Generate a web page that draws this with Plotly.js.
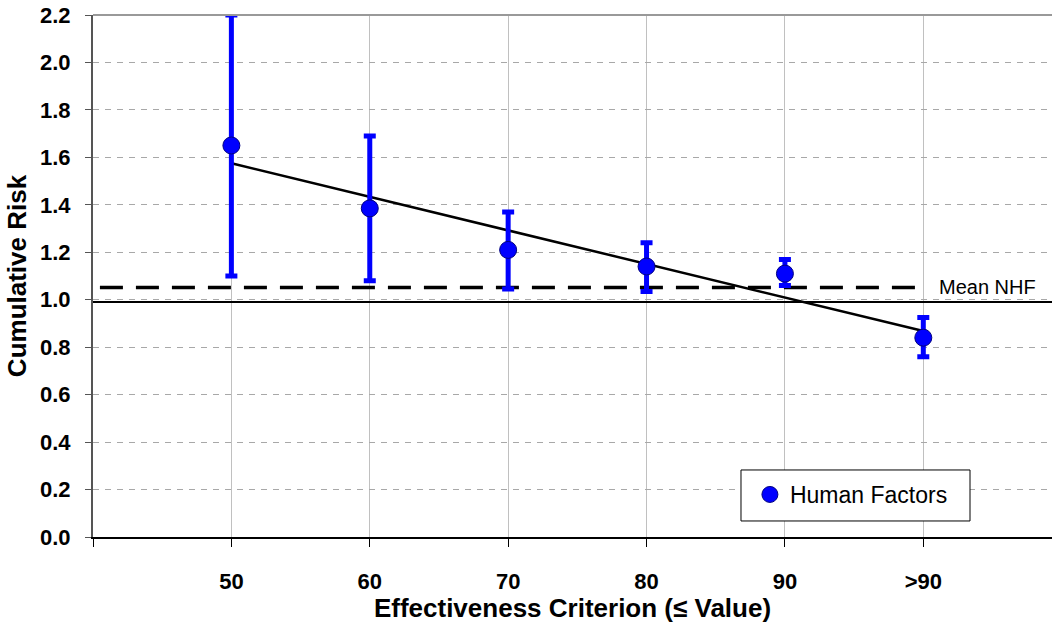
<!DOCTYPE html>
<html>
<head>
<meta charset="utf-8">
<script src="https://cdn.plot.ly/plotly-3.0.1.min.js"></script>
<style>html,body{margin:0;padding:0;background:#fff;overflow:hidden}</style>
</head>
<body>
<div id="chart" style="width:1052px;height:623px"></div>
<script>
// ---- data ----
const categories = ['50', '60', '70', '80', '90', '>90'];
const categoryIndex = [0, 1, 2, 3, 4, 5];
const cumulativeRisk = [1.65, 1.385, 1.21, 1.14, 1.11, 0.84];
const upperBound = [2.20, 1.69, 1.37, 1.24, 1.17, 0.925];
const lowerBound = [1.10, 1.08, 1.045, 1.035, 1.06, 0.76];
const trendX = [0, 5];
const trendY = [1.575, 0.868];
const meanNHF = 1.052;
const meanLineX = [-0.95, 5];
const baselineRisk = 0.99;

const errPlus = upperBound.map((u, i) => u - cumulativeRisk[i]);
const errMinus = lowerBound.map((l, i) => cumulativeRisk[i] - l);

const FONT = 'Arial, "Liberation Sans", sans-serif';

const traces = [
  {
    x: meanLineX, y: meanLineX.map(() => meanNHF),
    mode: 'lines', showlegend: false, hoverinfo: 'skip',
    line: {color: '#000', width: 3.5, dash: '23px,13px'}
  },
  {
    x: trendX, y: trendY,
    mode: 'lines', showlegend: false, hoverinfo: 'skip',
    line: {color: '#000', width: 2.5}
  },
  {
    x: categoryIndex, y: cumulativeRisk,
    name: 'Human Factors',
    mode: 'markers',
    marker: {color: '#0000ff', size: 17, line: {color: '#000080', width: 1}},
    error_y: {type: 'data', symmetric: false, array: errPlus, arrayminus: errMinus,
              color: '#0000ff', thickness: 5, width: 6}
  }
];

const layout = {
  width: 1052, height: 623,
  margin: {l: 93, r: 0, t: 15, b: 86},
  paper_bgcolor: '#fff', plot_bgcolor: '#fff',
  font: {family: FONT, color: '#000'},
  showlegend: true,
  legend: {
    x: 0.685, y: 0.1226, xanchor: 'left', yanchor: 'top',
    bgcolor: 'rgba(0,0,0,0)', borderwidth: 0,
    font: {family: FONT, size: 23, color: '#000'},
    itemwidth: 30
  },
  xaxis: {
    range: [-1, 5.93],
    tickmode: 'array',
    tickvals: [-1].concat(categoryIndex),
    ticktext: [''].concat(categories),
    showgrid: true, gridcolor: '#c0c0c0', gridwidth: 1,
    zeroline: false,
    showline: true, linecolor: '#000', linewidth: 2,
    ticks: 'outside', ticklen: 8, tickcolor: '#000', tickwidth: 1,
    ticklabelstandoff: 16,
    tickfont: {family: FONT, size: 22, color: '#000', weight: 'bold'},
    title: {text: 'Effectiveness Criterion (≤ Value)', standoff: 14,
            font: {family: FONT, size: 26, color: '#000', weight: 'bold'}},
    fixedrange: true
  },
  yaxis: {
    range: [0, 2.2],
    tickmode: 'linear', tick0: 0, dtick: 0.2, tickformat: '.1f',
    showgrid: true, gridcolor: '#a8a8a8', gridwidth: 1, griddash: '6px,6px',
    zeroline: false,
    showline: true, linecolor: '#555', linewidth: 2,
    ticks: 'outside', ticklen: 6, tickcolor: '#555', tickwidth: 1,
    ticklabelstandoff: 10,
    tickfont: {family: FONT, size: 22, color: '#000', weight: 'bold'},
    title: {text: 'Cumulative Risk', standoff: 6,
            font: {family: FONT, size: 26, color: '#000', weight: 'bold'}},
    fixedrange: true
  },
  shapes: [
    {type: 'line', xref: 'paper', yref: 'y', x0: 0, x1: 1, y0: baselineRisk, y1: baselineRisk,
     line: {color: '#000', width: 2}},
    {type: 'line', xref: 'paper', yref: 'paper', x0: 0, x1: 1, y0: 1, y1: 1,
     line: {color: '#999', width: 2}},
    {type: 'rect', xref: 'paper', yref: 'paper', x0: 0.6757, x1: 0.9145, y0: 0.0307, y1: 0.1284,
     layer: 'above', fillcolor: '#fff', line: {color: '#000', width: 1}}
  ],
  annotations: [
    {x: 5, y: meanNHF, xref: 'x', yref: 'y', xanchor: 'left', yanchor: 'middle',
     xshift: 14, text: 'Mean NHF', showarrow: false,
     font: {family: FONT, size: 20, color: '#000'}}
  ]
};

Plotly.newPlot('chart', traces, layout, {displayModeBar: false, staticPlot: true});
</script>
</body>
</html>
